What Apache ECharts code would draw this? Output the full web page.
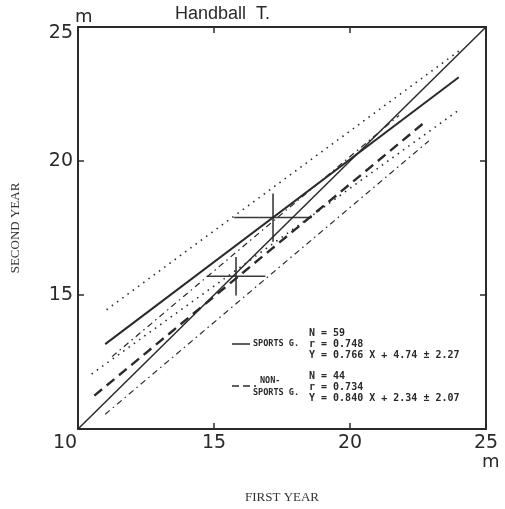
<!DOCTYPE html>
<html>
<head>
<meta charset="utf-8">
<script src="https://cdn.jsdelivr.net/npm/echarts@6/dist/echarts.min.js"></script>
<style>
  html, body { margin: 0; padding: 0; background: #fff; }
  #chart { width: 505px; height: 509px; }
</style>
</head>
<body>
<div id="chart"></div>
<script>
// Axis ticks (metres), both axes share the same scale
const xTicks = [10, 15, 20, 25];
const yTicks = [10, 15, 20, 25];

// Regression statistics for each group
const sportsStats = { n: 59, r: 0.748, slope: 0.766, intercept: 4.74, see: 2.27 };
const nonSportsStats = { n: 44, r: 0.734, slope: 0.840, intercept: 2.34, see: 2.07 };

// X extent of each regression line
const sportsRange = [11.0, 24.0];
const nonSportsRange = [10.6, 22.8];

// Band lines around each regression line (end points)
const sportsBandUpper = [[11.05, 14.45], [24.0, 24.1]];
const sportsBandLower = [[10.5, 12.05], [24.0, 21.9]];
const nonSportsBandUpper = [[11.25, 12.7], [21.8, 21.7]];
const nonSportsBandLower = [[11.0, 10.55], [22.9, 20.75]];

// Identity line
const identityLine = [[10, 10], [25, 25]];

// Group means with SD arms [meanX, meanY, sdX, sdY]
const sportsMean = [17.17, 17.89, 1.43, 0.9];
const nonSportsMean = [15.81, 15.70, 1.08, 0.72];

const INK = '#2a2a2a';

function fitLine(stats, range) {
  return range.map(x => [x, +(stats.slope * x + stats.intercept).toFixed(3)]);
}

function statLines(s) {
  return [
    'N = ' + s.n,
    'r = ' + s.r.toFixed(3),
    'Y = ' + s.slope.toFixed(3) + ' X + ' + s.intercept.toFixed(2) + ' \u00b1 ' + s.see.toFixed(2)
  ];
}

function lineSeries(data, type, width) {
  return {
    type: 'line', data: data, showSymbol: false, symbol: 'none', silent: true,
    lineStyle: { color: INK, width: width, type: type, cap: 'butt' },
    animation: false
  };
}

const chart = echarts.init(document.getElementById('chart'), null, { renderer: 'canvas' });

const tickFont = { fontFamily: 'DejaVu Sans', fontSize: 19, color: INK };
const monoFont = 'DejaVu Sans Mono';
const statFont = 'bold 10px "' + monoFont + '"';
const groupFont = 'bold 8.5px "' + monoFont + '"';

const sportsText = statLines(sportsStats);
const nonSportsText = statLines(nonSportsStats);

const graphics = [
  { type: 'text', left: 175, top: 5, style: { text: 'Handball  T.', font: '18px "Liberation Sans"', fill: INK } },
  { type: 'text', left: 75, top: 8, style: { text: 'm', font: '18px "DejaVu Sans"', fill: INK } },
  { type: 'text', left: 482, top: 453, style: { text: 'm', font: '18px "DejaVu Sans"', fill: INK } },
  // legend: sports group
  { type: 'line', shape: { x1: 232, y1: 344, x2: 250, y2: 344 }, style: { stroke: INK, lineWidth: 1.5 } },
  { type: 'text', left: 253, top: 339.5, style: { text: 'SPORTS G.', font: groupFont, fill: INK } },
  // legend: non-sports group
  { type: 'line', shape: { x1: 232, y1: 386, x2: 256, y2: 386 }, style: { stroke: INK, lineWidth: 1.5, lineDash: [7, 4] } },
  { type: 'text', left: 260, top: 376, style: { text: 'NON-', font: groupFont, fill: INK } },
  { type: 'text', left: 253, top: 388, style: { text: 'SPORTS G.', font: groupFont, fill: INK } }
];
sportsText.forEach((t, i) => graphics.push({
  type: 'text', left: 309, top: 328 + i * 11, style: { text: t, font: statFont, fill: INK }
}));
nonSportsText.forEach((t, i) => graphics.push({
  type: 'text', left: 309, top: 371 + i * 11, style: { text: t, font: statFont, fill: INK }
}));

function crossRenderer(params, api) {
  const mx = api.value(0), my = api.value(1), sx = api.value(2), sy = api.value(3);
  const l = api.coord([mx - sx, my]), r = api.coord([mx + sx, my]);
  const t = api.coord([mx, my + sy]), b = api.coord([mx, my - sy]);
  const st = { stroke: '#3a3a3a', lineWidth: 1.6 };
  return {
    type: 'group',
    children: [
      { type: 'line', shape: { x1: l[0], y1: l[1], x2: r[0], y2: r[1] }, style: st },
      { type: 'line', shape: { x1: t[0], y1: t[1], x2: b[0], y2: b[1] }, style: st }
    ]
  };
}

const baseAxis = {
  type: 'value', min: xTicks[0], max: xTicks[xTicks.length - 1], interval: 5,
  splitLine: { show: false },
  axisLine: { show: true, onZero: false, lineStyle: { color: INK, width: 2 } },
  axisTick: { show: true, inside: true, length: 6, lineStyle: { color: INK, width: 1.5 } }
};

chart.setOption({
  animation: false,
  backgroundColor: '#fff',
  grid: { left: 78, top: 27, width: 408, height: 405, show: false },
  xAxis: [
    Object.assign({}, baseAxis, {
      position: 'bottom',
      name: 'FIRST YEAR', nameLocation: 'middle', nameGap: 62,
      nameTextStyle: { fontFamily: 'Liberation Serif', fontSize: 13, color: '#333' },
      axisLabel: {
        margin: 5, ...tickFont,
        formatter: v => (v === xTicks[0] ? '{c|' + v + '}' : String(v)),
        rich: { c: { ...tickFont, padding: [0, 26, 0, 0] } }
      }
    }),
    Object.assign({}, baseAxis, { position: 'top', axisLabel: { show: false } })
  ],
  yAxis: [
    Object.assign({}, baseAxis, {
      min: yTicks[0], max: yTicks[yTicks.length - 1],
      position: 'left',
      name: 'SECOND YEAR', nameLocation: 'middle', nameGap: 56, nameRotate: 90,
      nameTextStyle: { fontFamily: 'Liberation Serif', fontSize: 13, color: '#333' },
      axisLabel: {
        margin: 5, ...tickFont,
        formatter: v => (v === yTicks[0] ? '' : (v === yTicks[yTicks.length - 1] ? '{t|' + v + '}' : String(v))),
        rich: { t: { ...tickFont, padding: [12, 0, 0, 0] } }
      }
    }),
    Object.assign({}, baseAxis, { min: yTicks[0], max: yTicks[yTicks.length - 1], position: 'right', axisLabel: { show: false } })
  ],
  graphic: graphics,
  series: [
    lineSeries(identityLine, 'solid', 1.5),
    lineSeries(fitLine(sportsStats, sportsRange), 'solid', 2),
    lineSeries(sportsBandUpper, [1.5, 5], 1.6),
    lineSeries(sportsBandLower, [1.5, 5], 1.6),
    lineSeries(fitLine(nonSportsStats, nonSportsRange), [10, 6], 2.4),
    lineSeries(nonSportsBandUpper, [6, 4, 1.5, 4], 1.2),
    lineSeries(nonSportsBandLower, [6, 4, 1.5, 4], 1.2),
    {
      type: 'custom', renderItem: crossRenderer, silent: true, animation: false,
      data: [sportsMean, nonSportsMean]
    }
  ]
});
</script>
</body>
</html>
